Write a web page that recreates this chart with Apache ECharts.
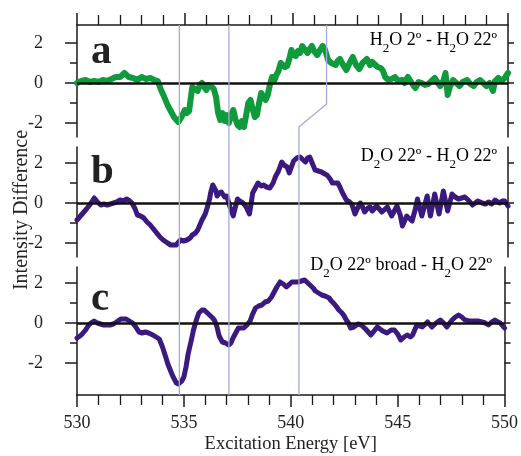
<!DOCTYPE html>
<html>
<head>
<meta charset="utf-8">
<script src="https://cdn.jsdelivr.net/npm/echarts@6/dist/echarts.min.js"></script>
<style>
  html, body { margin: 0; padding: 0; background: #fff; }
  #chart { width: 521px; height: 456px; }
</style>
</head>
<body>
<div id="chart"></div>
<script>
// panel a : H2O 2º - H2O 22º  [energy eV, difference]
var pointsA = [
    [530.0, 0.0], [530.2, 0.1], [530.4, 0.15], [530.6, 0.05], [530.8, 0.1], [531.0, 0.05],
    [531.2, 0.15], [531.4, 0.1], [531.6, 0.2], [531.8, 0.3], [532.0, 0.3], [532.2, 0.5],
    [532.4, 0.3], [532.6, 0.25], [532.8, 0.15], [533.0, 0.3], [533.2, 0.2], [533.4, 0.25],
    [533.6, 0.15], [533.75, 0.1], [533.9, -0.35], [534.05, -0.7], [534.2, -1.1], [534.35, -1.4],
    [534.5, -1.7], [534.7, -1.95], [534.85, -1.7], [535.0, -1.35], [535.1, -1.5], [535.2, -1.4],
    [535.3, -0.6], [535.35, -0.2], [535.45, -0.3], [535.6, -0.4], [535.7, -0.1], [535.8, 0.0],
    [535.9, -0.2], [536.0, -0.35], [536.1, -0.1], [536.25, -0.2], [536.35, -0.3], [536.45, -0.7],
    [536.55, -1.5], [536.65, -1.85], [536.75, -1.5], [536.85, -1.9], [536.95, -1.6], [537.05, -2.0],
    [537.15, -1.6], [537.25, -1.35], [537.35, -1.8], [537.45, -2.1], [537.55, -2.2], [537.65, -1.9],
    [537.75, -2.2], [537.85, -1.6], [537.95, -1.0], [538.05, -0.85], [538.15, -1.3], [538.25, -1.7],
    [538.35, -1.6], [538.45, -1.0], [538.55, -0.5], [538.65, -0.7], [538.75, -0.85], [538.85, -0.6],
    [538.95, -0.1], [539.05, 0.3], [539.15, 0.1], [539.25, 0.4], [539.35, 0.6], [539.45, 1.0],
    [539.55, 0.9], [539.65, 0.8], [539.75, 0.85], [539.85, 1.2], [539.95, 1.65], [540.05, 1.4],
    [540.15, 1.35], [540.25, 1.6], [540.35, 1.5], [540.45, 1.85], [540.55, 1.7], [540.7, 1.5],
    [540.8, 1.7], [540.9, 1.85], [541.0, 1.6], [541.15, 1.4], [541.25, 1.6], [541.4, 1.85],
    [541.5, 1.7], [541.65, 1.15], [541.8, 1.0], [542.0, 0.9], [542.1, 1.1], [542.2, 1.2],
    [542.35, 0.9], [542.5, 0.65], [542.65, 1.0], [542.8, 1.3], [542.95, 0.9], [543.1, 0.7],
    [543.25, 1.0], [543.45, 1.2], [543.6, 0.9], [543.7, 1.05], [543.85, 0.9], [543.95, 0.8],
    [544.1, 0.75], [544.2, 0.6], [544.3, 0.3], [544.45, 0.15], [544.6, 0.2], [544.75, 0.3],
    [544.9, 0.1], [545.1, 0.15], [545.2, 0.0], [545.35, 0.3], [545.5, 0.05], [545.7, -0.25],
    [545.85, 0.05], [546.0, 0.0], [546.15, -0.1], [546.3, -0.05], [546.45, 0.1], [546.6, 0.25],
    [546.75, 0.0], [546.85, -0.15], [547.0, 0.1], [547.1, 0.5], [547.2, -0.6], [547.3, -0.2],
    [547.45, 0.15], [547.6, 0.0], [547.75, -0.15], [547.9, 0.05], [548.1, 0.15], [548.25, -0.05],
    [548.4, -0.15], [548.55, 0.05], [548.7, 0.15], [548.85, 0.0], [549.0, -0.15], [549.15, 0.0],
    [549.3, -0.4], [549.4, 0.1], [549.55, 0.25], [549.7, 0.1], [549.85, 0.25], [550.0, 0.5]
];

// panel b : D2O 22º - H2O 22º
var pointsB = [
    [530.0, -0.85], [530.2, -0.6], [530.4, -0.35], [530.55, -0.15], [530.65, 0.0], [530.8, 0.25],
    [530.95, 0.05], [531.1, -0.1], [531.25, -0.05], [531.4, -0.1], [531.55, -0.05], [531.7, 0.0],
    [531.85, 0.05], [532.0, 0.15], [532.15, 0.1], [532.3, 0.2], [532.45, 0.1], [532.55, 0.0],
    [532.7, -0.3], [532.8, -0.6], [532.95, -0.65], [533.1, -0.75], [533.25, -0.95], [533.4, -1.1],
    [533.55, -1.3], [533.7, -1.5], [533.85, -1.7], [534.0, -1.85], [534.2, -2.0], [534.35, -2.1],
    [534.5, -2.1], [534.6, -2.1], [534.8, -1.85], [534.95, -1.9], [535.1, -1.85], [535.25, -1.75],
    [535.35, -1.6], [535.5, -1.5], [535.6, -1.35], [535.7, -1.1], [535.8, -0.85], [535.95, -0.55],
    [536.05, -0.2], [536.15, 0.2], [536.2, 0.5], [536.3, 0.9], [536.35, 1.0], [536.45, 0.6],
    [536.5, 0.35], [536.6, 0.5], [536.7, 0.55], [536.85, 0.3], [536.95, 0.35], [537.1, -0.2],
    [537.25, -0.65], [537.35, -0.2], [537.45, 0.2], [537.55, 0.1], [537.7, 0.0], [537.85, -0.2],
    [538.0, -0.55], [538.1, 0.1], [538.15, 0.5], [538.3, 0.8], [538.4, 1.0], [538.55, 0.85],
    [538.65, 0.9], [538.8, 0.8], [538.95, 0.75], [539.1, 1.0], [539.2, 1.3], [539.35, 1.6],
    [539.5, 2.05], [539.6, 1.9], [539.75, 1.8], [539.85, 1.5], [539.95, 1.8], [540.05, 2.1],
    [540.2, 2.25], [540.35, 2.3], [540.45, 2.2], [540.6, 2.05], [540.7, 2.25], [540.8, 2.3],
    [540.95, 1.9], [541.05, 1.65], [541.2, 1.6], [541.35, 1.55], [541.5, 1.45], [541.6, 1.4],
    [541.75, 1.2], [541.85, 1.0], [542.0, 1.0], [542.1, 1.0], [542.2, 0.8], [542.3, 0.55],
    [542.4, 0.35], [542.5, 0.15], [542.65, 0.05], [542.75, -0.05], [542.9, -0.55], [543.0, -0.3],
    [543.15, 0.0], [543.25, -0.2], [543.35, -0.45], [543.5, -0.25], [543.6, -0.2], [543.7, -0.4],
    [543.9, -0.15], [544.15, -0.45], [544.4, -0.2], [544.6, -0.65], [544.85, -0.15], [545.0, -0.6],
    [545.1, -1.15], [545.3, -0.65], [545.55, -0.9], [545.7, -0.3], [545.8, 0.2], [546.0, -0.65],
    [546.25, 0.35], [546.4, -0.65], [546.6, 0.45], [546.8, -0.55], [547.0, 0.6], [547.2, -0.4],
    [547.4, 0.45], [547.55, 0.3], [547.7, 0.2], [547.85, 0.25], [548.0, 0.3], [548.2, 0.1],
    [548.35, -0.1], [548.6, 0.1], [548.8, 0.0], [548.95, -0.05], [549.1, 0.05], [549.25, -0.05],
    [549.4, 0.15], [549.6, 0.0], [549.75, 0.1], [549.85, 0.1], [550.0, -0.15]
];

// panel c : D2O 22º broad - H2O 22º
var pointsC = [
    [530.0, -0.75], [530.2, -0.6], [530.4, -0.35], [530.55, -0.1], [530.65, 0.0], [530.8, 0.1],
    [530.95, 0.0], [531.1, -0.05], [531.25, -0.1], [531.4, -0.1], [531.55, -0.1], [531.7, -0.05],
    [531.85, 0.05], [532.05, 0.2], [532.3, 0.2], [532.45, 0.1], [532.6, 0.0], [532.75, -0.2],
    [532.9, -0.45], [533.05, -0.5], [533.2, -0.45], [533.35, -0.5], [533.55, -0.6], [533.7, -0.7],
    [533.85, -0.8], [534.0, -1.2], [534.15, -1.7], [534.25, -2.05], [534.4, -2.45], [534.5, -2.7],
    [534.65, -3.0], [534.75, -3.05], [534.9, -2.9], [535.0, -2.7], [535.1, -2.2], [535.2, -1.55],
    [535.35, -0.85], [535.45, -0.35], [535.6, 0.2], [535.7, 0.5], [535.85, 0.65], [535.95, 0.65],
    [536.1, 0.5], [536.2, 0.4], [536.35, 0.25], [536.45, 0.1], [536.55, -0.2], [536.65, -0.65],
    [536.8, -0.95], [536.95, -1.0], [537.1, -1.1], [537.2, -1.0], [537.3, -0.75], [537.45, -0.45],
    [537.55, -0.25], [537.7, -0.25], [537.8, -0.25], [537.95, -0.1], [538.1, 0.1], [538.2, 0.4],
    [538.35, 0.75], [538.5, 0.85], [538.65, 0.9], [538.8, 1.05], [538.95, 1.1], [539.1, 1.3],
    [539.2, 1.5], [539.35, 1.8], [539.5, 2.05], [539.65, 1.95], [539.8, 1.8], [539.95, 1.95],
    [540.05, 2.05], [540.2, 2.05], [540.35, 2.05], [540.5, 2.1], [540.65, 2.15], [540.8, 2.0],
    [540.9, 1.9], [541.05, 1.75], [541.15, 1.6], [541.3, 1.5], [541.45, 1.4], [541.6, 1.35],
    [541.8, 1.25], [541.9, 1.1], [542.0, 1.0], [542.15, 0.8], [542.25, 0.65], [542.4, 0.5],
    [542.5, 0.35], [542.6, 0.15], [542.7, 0.0], [542.8, -0.25], [542.95, -0.2], [543.15, -0.05],
    [543.3, -0.1], [543.5, -0.3], [543.75, -0.6], [543.9, -0.4], [544.05, -0.2], [544.3, -0.4],
    [544.5, -0.5], [544.7, -0.35], [544.85, -0.35], [545.0, -0.55], [545.15, -0.85], [545.3, -0.7],
    [545.45, -0.6], [545.6, -0.7], [545.7, -0.6], [545.9, -0.1], [546.15, -0.2], [546.4, 0.05],
    [546.6, -0.2], [546.8, 0.0], [547.0, 0.15], [547.15, 0.0], [547.3, -0.2], [547.55, 0.15],
    [547.7, 0.3], [547.85, 0.4], [548.0, 0.3], [548.15, 0.15], [548.35, 0.1], [548.55, 0.1],
    [548.75, 0.1], [548.95, 0.05], [549.1, 0.0], [549.25, -0.1], [549.4, 0.05], [549.55, 0.15],
    [549.7, 0.05], [549.8, 0.0], [550.0, -0.25]
];

// guide lines, y given in panel-a units over the whole stack (2.9 top ... -15.6 bottom)
var guide1 = [[534.75, 2.9], [534.75, -15.6]];
var guide2 = [[537.05, 2.9], [537.05, -15.6]];
var guide3 = [[541.58, 2.9], [541.58, -1.05], [540.3, -2.2], [540.3, -15.6]];

var yLabels = [-2, 0, 2];
var yMinor = [-1, 1];
var yAll = [-2, -1, 0, 1, 2];

var serif = 'Liberation Serif';
var ink = '#1a1a1a';
var textColor = '#222';

var myChart = echarts.init(document.getElementById('chart'));

var panels = [
    {top: 25, height: 112, min: -2.7, max: 2.9, data: pointsA, color: '#0f9b3c'},
    {top: 147, height: 110, min: -2.7, max: 2.8, data: pointsB, color: '#3a1a7e'},
    {top: 267, height: 128, min: -3.6, max: 2.8, data: pointsC, color: '#3a1a7e'}
];

var grids = [], xAxes = [], yAxes = [], series = [];

panels.forEach(function (p, i) {
    grids.push({left: 77, right: 13, top: p.top, height: p.height});
    xAxes.push({
        type: 'value', gridIndex: i, min: 530, max: 550, interval: 5,
        position: i === 0 ? 'top' : 'bottom',
        show: i !== 1,
        axisLine: {show: true, onZero: false, lineStyle: {color: ink, width: 1.5}},
        axisTick: {show: true, length: 12, lineStyle: {color: ink, width: 1.5}},
        minorTick: {show: true, splitNumber: 5, length: 10, lineStyle: {color: ink, width: 1.3}},
        splitLine: {show: false},
        axisLabel: {
            show: i === 2, margin: 19, color: textColor,
            fontFamily: serif, fontSize: 18
        },
        name: i === 2 ? 'Excitation Energy [eV]' : '',
        nameLocation: 'middle', nameGap: 40,
        nameTextStyle: {fontFamily: serif, fontSize: 18.5, color: textColor}
    });
    // left, long ticks with labels
    yAxes.push({
        type: 'value', gridIndex: i, min: p.min, max: p.max, position: 'left',
        axisLine: {show: true, onZero: false, lineStyle: {color: ink, width: 1.5}},
        axisTick: {show: true, length: 12, customValues: yLabels, lineStyle: {color: ink, width: 1.5}},
        axisLabel: {
            show: true, customValues: yLabels, margin: 34, color: textColor,
            fontFamily: serif, fontSize: 18
        },
        splitLine: {show: false}
    });
    // left, short ticks
    yAxes.push({
        type: 'value', gridIndex: i, min: p.min, max: p.max, position: 'left',
        axisLine: {show: false, onZero: false},
        axisTick: {show: true, length: 7, customValues: yMinor, lineStyle: {color: ink, width: 1.5}},
        axisLabel: {show: false},
        splitLine: {show: false}
    });
    // right side
    yAxes.push({
        type: 'value', gridIndex: i, min: p.min, max: p.max, position: 'right',
        axisLine: {show: true, onZero: false, lineStyle: {color: ink, width: 1.5}},
        axisTick: {show: true, length: 6, customValues: yAll, lineStyle: {color: ink, width: 1.5}},
        axisLabel: {show: false},
        splitLine: {show: false}
    });
    series.push({
        type: 'line', xAxisIndex: i, yAxisIndex: i * 3,
        data: p.data, showSymbol: false, symbol: 'none',
        lineStyle: {color: p.color, width: i === 0 ? 6 : 5, join: 'round', cap: 'round'},
        z: 2,
        markLine: {
            silent: true, symbol: 'none', label: {show: false},
            lineStyle: {color: '#111', width: 2.5, type: 'solid'},
            data: [{yAxis: 0}]
        }
    });
});

// overlay grid for the guide lines crossing all panels
grids.push({left: 77, right: 13, top: 25, height: 370});
xAxes.push({type: 'value', gridIndex: 3, min: 530, max: 550, show: false});
yAxes.push({type: 'value', gridIndex: 3, min: -15.6, max: 2.9, show: false});
[guide1, guide2, guide3].forEach(function (g) {
    series.push({
        type: 'line', xAxisIndex: 3, yAxisIndex: 9, data: g,
        symbol: 'none', silent: true, z: 5,
        lineStyle: {color: '#a3abdb', width: 1.3}
    });
});

var subRich = {
    n: {fontFamily: serif, fontSize: 18, color: textColor, lineHeight: 24, verticalAlign: 'top'},
    s: {fontFamily: serif, fontSize: 13, color: textColor, lineHeight: 12, verticalAlign: 'bottom'}
};

function note(text, x, y) {
    return {
        type: 'text', x: x, y: y, z: 10,
        style: {text: text, rich: subRich, align: 'right', verticalAlign: 'middle'}
    };
}

function letter(t, y) {
    return {
        type: 'text', x: 91, y: y, z: 10,
        style: {
            text: t, fontFamily: serif, fontWeight: 'bold', fontSize: 41,
            fill: textColor, align: 'left', verticalAlign: 'middle'
        }
    };
}

option = {
    backgroundColor: '#fff',
    animation: false,
    grid: grids,
    xAxis: xAxes,
    yAxis: yAxes,
    series: series,
    graphic: [
        letter('a', 52),
        letter('b', 172),
        letter('c', 299),
        note('{n|H}{s|2}{n|O 2º - H}{s|2}{n|O 22º}', 497, 43),
        note('{n|D}{s|2}{n|O 22º - H}{s|2}{n|O 22º}', 497, 159),
        note('{n|D}{s|2}{n|O 22º broad - H}{s|2}{n|O 22º}', 492, 268),
        {
            type: 'text', x: 22, y: 210, rotation: Math.PI / 2, z: 10,
            style: {
                text: 'Intensity Difference', fontFamily: serif, fontSize: 20,
                fill: textColor, align: 'center', verticalAlign: 'middle'
            }
        }
    ]
};
myChart.setOption(option);
</script>
</body>
</html>
